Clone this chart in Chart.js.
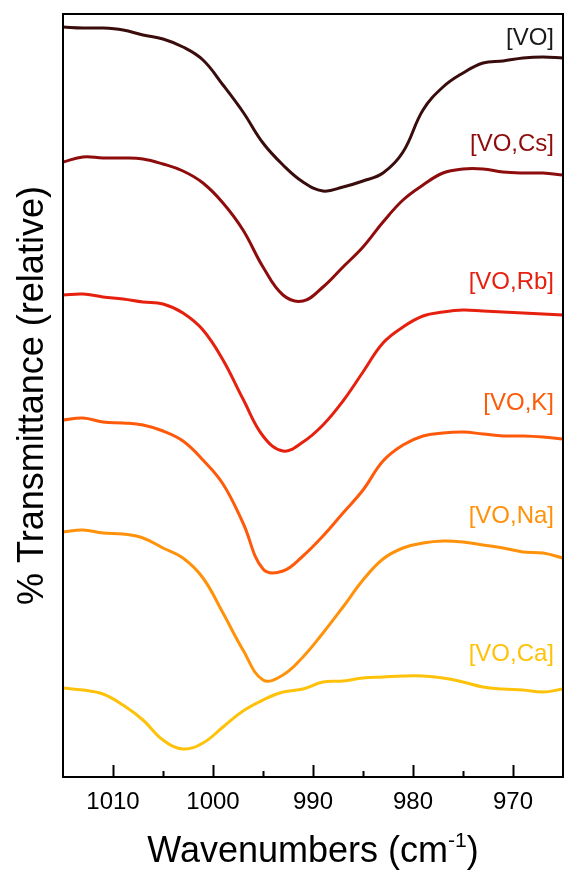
<!DOCTYPE html>
<html>
<head>
<meta charset="utf-8">
<script src="https://cdn.jsdelivr.net/npm/chart.js@4.4.1/dist/chart.umd.min.js"></script>
<style>
  html, body { margin: 0; padding: 0; background: #fff; }
  #wrap { width: 565px; height: 873px; }
</style>
</head>
<body>
<div id="wrap"><canvas id="myChart" width="565" height="873"></canvas></div>
<script>
// --- data (y = relative transmittance, arbitrary units) ---
const wavenumbers = [1015, 1013, 1011, 1009, 1007, 1005, 1003, 1001, 999, 997, 995, 993, 991,
                     989, 987, 985, 983, 981, 979, 977, 975, 973, 971, 969, 967, 965];

const vo   = [750, 749, 749, 747, 742, 738, 730, 717, 692, 665, 634, 612, 595, 586, 590, 596, 604, 625, 667, 690, 704, 714, 716, 719, 720, 719];
const voCs = [615, 620, 619, 619, 618, 613, 606, 594, 574, 547, 510, 482, 476, 490, 510, 530, 555, 577, 592, 604, 608, 608, 605, 604, 604, 602];
const voRb = [482, 483, 480, 478, 475, 473, 464, 447, 417, 378, 341, 326, 335, 352, 376, 405, 434, 450, 461, 465, 467, 466, 465, 464, 463, 462];
const voK  = [357, 359, 355, 354, 352, 346, 336, 317, 293, 254, 208, 206, 221, 241, 264, 287, 316, 332, 341, 344, 345, 343, 341, 341, 340, 338];
const voNa = [245, 247, 244, 243, 239, 229, 219, 199, 164, 127, 97, 102, 120, 144, 170, 197, 218, 229, 234, 236, 235, 232, 229, 225, 224, 219];
const voCa = [89, 87, 83, 72, 57, 37, 28, 34, 50, 66, 77, 85, 88, 95, 96, 99, 100, 101, 101, 99, 95, 90, 88, 87, 85, 88];

const seriesNames  = ['[VO]', '[VO,Cs]', '[VO,Rb]', '[VO,K]', '[VO,Na]', '[VO,Ca]'];
const seriesValues = [vo, voCs, voRb, voK, voNa, voCa];
const lineColors   = ['#3a0c0c', '#8e0c0c', '#e6200e', '#ff5a0a', '#ff920a', '#ffc20a'];
const labelColors  = ['#1a1a1a', '#8e0c0c', '#e6200e', '#ff5a0a', '#ff920a', '#ffc20a'];
// label position: value on the y scale where each name sits
const labelY       = [739, 633, 495, 374, 261, 123];

const majorTicks = [1010, 1000, 990, 980, 970];
const minorTicks = [1005, 995, 985, 975];

const FONT = '"Liberation Sans", Arial, sans-serif';

// --- plugin: frame, inner ticks, titles, series names ---
const decorations = {
    id: 'decorations',
    afterDraw(chart) {
        const ctx = chart.ctx;
        const a = chart.chartArea;
        const xs = chart.scales.x, ys = chart.scales.y;
        ctx.save();
        ctx.strokeStyle = '#000';
        ctx.lineWidth = 2;
        ctx.strokeRect(a.left, a.top, a.right - a.left, a.bottom - a.top);

        // inner ticks
        ctx.beginPath();
        majorTicks.forEach(v => {
            const px = Math.round(xs.getPixelForValue(v)) + 0.5;
            ctx.moveTo(px, a.bottom); ctx.lineTo(px, a.bottom - 12);
        });
        minorTicks.forEach(v => {
            const px = Math.round(xs.getPixelForValue(v)) + 0.5;
            ctx.moveTo(px, a.bottom); ctx.lineTo(px, a.bottom - 6);
        });
        ctx.stroke();

        // series names
        ctx.font = '24px ' + FONT;
        ctx.textAlign = 'right';
        ctx.textBaseline = 'middle';
        seriesNames.forEach((n, i) => {
            ctx.fillStyle = labelColors[i];
            ctx.fillText(n, a.right - 9, ys.getPixelForValue(labelY[i]));
        });

        // x title with superscript
        ctx.fillStyle = '#000';
        ctx.textBaseline = 'alphabetic';
        ctx.textAlign = 'left';
        const big = '36px ' + FONT, small = '21px ' + FONT;
        const p1 = 'Wavenumbers (cm', p2 = '-1', p3 = ')';
        ctx.font = big; const w1 = ctx.measureText(p1).width, w3 = ctx.measureText(p3).width;
        ctx.font = small; const w2 = ctx.measureText(p2).width;
        let x0 = (a.left + a.right) / 2 - (w1 + w2 + w3) / 2;
        const base = 862;
        ctx.font = big; ctx.fillText(p1, x0, base);
        ctx.font = small; ctx.fillText(p2, x0 + w1, base - 15);
        ctx.font = big; ctx.fillText(p3, x0 + w1 + w2, base);

        // y title
        ctx.translate(33, (a.top + a.bottom) / 2);
        ctx.rotate(-Math.PI / 2);
        ctx.textAlign = 'center';
        ctx.textBaseline = 'middle';
        ctx.font = big;
        ctx.fillText('% Transmittance (relative)', 0, 0);
        ctx.restore();
    }
};

const datasets = seriesValues.map((vals, i) => ({
    label: seriesNames[i],
    data: vals.map((v, j) => ({ x: wavenumbers[j], y: v })),
    borderColor: lineColors[i],
    borderWidth: 3,
    pointRadius: 0,
    fill: false,
    tension: 0.4
}));

new Chart(document.getElementById('myChart'), {
    type: 'line',
    data: { datasets: datasets },
    plugins: [decorations],
    options: {
        responsive: false,
        animation: false,
        layout: { padding: { left: 63, right: 2, top: 14, bottom: 0 } },
        plugins: { legend: { display: false }, tooltip: { enabled: false } },
        scales: {
            x: {
                type: 'linear', reverse: true, min: 965, max: 1015,
                afterBuildTicks: s => { s.ticks = majorTicks.map(v => ({ value: v })); },
                afterFit: s => { s.height = 96; },
                grid: { display: false, drawTicks: false },
                border: { display: false },
                ticks: {
                    color: '#000', font: { family: FONT, size: 24 }, padding: 11, maxRotation: 0,
                    callback: v => String(v)
                }
            },
            y: {
                display: false, min: 0, max: 763
            }
        }
    }
});
</script>
</body>
</html>
